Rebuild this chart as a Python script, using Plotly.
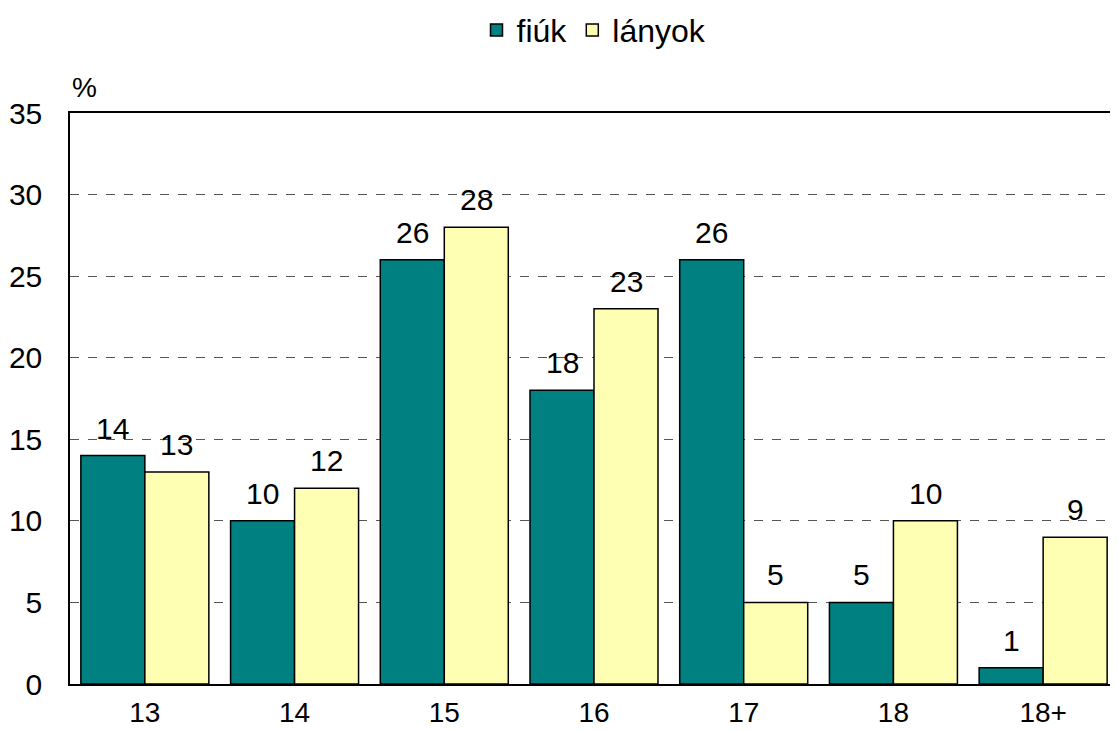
import plotly.graph_objects as go

categories = ["13", "14", "15", "16", "17", "18", "18+"]
fiuk = [14, 10, 26, 18, 26, 5, 1]
lanyok = [13, 12, 28, 23, 5, 10, 9]

FONT = "Liberation Sans, Arial, sans-serif"
FS = 30

fig = go.Figure()
fig.add_trace(go.Bar(
    x=categories, y=fiuk, name="fiúk",
    marker=dict(color="#008080", line=dict(color="#000000", width=1.5)),
))
fig.add_trace(go.Bar(
    x=categories, y=lanyok, name="lányok",
    marker=dict(color="#FFFFB3", line=dict(color="#000000", width=1.5)),
))

# value labels above the bars (x given as category index on the category axis)
for vals, shift in ((fiuk, -32), (lanyok, 32)):
    for i, v in enumerate(vals):
        fig.add_annotation(x=i, y=v, xref="x", yref="y", text=str(v),
                           showarrow=False, xanchor="center", yanchor="bottom",
                           xshift=shift, yshift=9,
                           font=dict(size=FS, family=FONT, color="#000000"))

fig.update_layout(
    width=1110, height=723,
    margin=dict(l=62, r=0, t=105, b=47, autoexpand=False),
    paper_bgcolor="white", plot_bgcolor="white",
    font=dict(family=FONT, size=FS, color="#000000"),
    barmode="group", bargap=0.145, bargroupgap=0,
    showlegend=True,
    legend=dict(orientation="h", x=0.5, xanchor="center", y=1.145, yanchor="middle",
                font=dict(size=32), itemwidth=30, tracegroupgap=0,
                bgcolor="rgba(0,0,0,0)"),
)
fig.update_xaxes(
    type="category", range=[-0.5, len(categories) - 0.5],
    showline=True, linecolor="#000000", linewidth=1.5, mirror=True,
    showgrid=False, ticks="", tickfont=dict(size=28), automargin=False,
    ticklabelstandoff=3,
)
fig.update_yaxes(
    range=[0, 35], dtick=5, tick0=0,
    showline=True, linecolor="#000000", linewidth=1.5,
    showgrid=True, gridcolor="#555555", griddash="dash", gridwidth=1,
    zeroline=False, ticks="", tickfont=dict(size=FS), ticklabelstandoff=20,
    automargin=False,
)
fig.add_annotation(text="%", xref="paper", yref="paper", x=0.0, y=1.0,
                   xanchor="left", yanchor="bottom", yshift=8, showarrow=False,
                   font=dict(size=28, family=FONT))

fig.write_html("out.html")
